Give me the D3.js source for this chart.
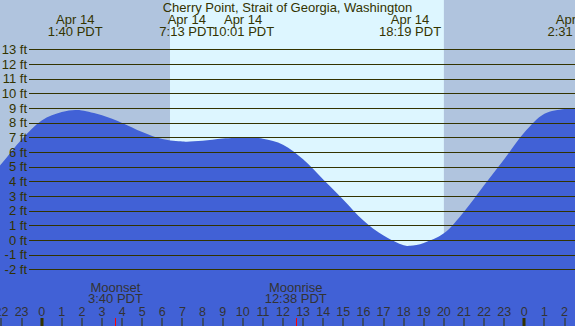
<!DOCTYPE html>
<html lang="en">
  <head>
    <meta charset="UTF-8" />
    <title>Cherry Point tide</title>
    <script src="https://cdnjs.cloudflare.com/ajax/libs/d3/7.8.5/d3.min.js"></script>
    <style>
      body,
      html {
        margin: 0;
        padding: 0;
        overflow: hidden;
      }
      svg {
        display: block;
      }
      text {
        font-family: "Liberation Sans", Arial, sans-serif;
        font-size: 13px;
        fill: #333300;
      }
      .hour {
        font-size: 12.5px;
      }
    </style>
  </head>
  <body>
    <svg width="575" height="326"></svg>
    <script type="text/javascript">
      // hours since midnight Apr 14 (PDT), heights in ft
      const hours = [-3, -2, -1, 0, 1, 1.667, 2, 3, 4, 5, 6, 7, 7.217, 8, 9, 10, 10.017, 11, 12, 13, 14, 15, 16, 17, 18, 18.317, 19, 20, 21, 22, 23, 24, 25, 26, 26.517, 27];
      const heights = [3.7, 5.2, 6.85, 8.15, 8.72, 8.86, 8.83, 8.5, 7.98, 7.36, 6.88, 6.71, 6.7, 6.76, 6.92, 6.99, 6.99, 6.9, 6.5, 5.5, 4.13, 2.75, 1.33, 0.3, -0.36, -0.4, -0.2, 0.45, 1.93, 3.73, 5.5, 7.32, 8.6, 8.93, 8.98, 8.95];

      const tideTimes = [1.667, 7.217, 10.017, 18.317, 26.517];
      const tideDates = ["Apr 14", "Apr 14", "Apr 14", "Apr 14", "Apr 15"];
      const tideLabels = ["1:40 PDT", "7:13 PDT", "10:01 PDT", "18:19 PDT", "2:31 PDT"];

      const moonTimes = [3.667, 12.633];
      const moonNames = ["Moonset", "Moonrise"];
      const moonLabels = ["3:40 PDT", "12:38 PDT"];

      const sunrise = 6.38;
      const sunset = 20.0;

      const feet = d3.range(-2, 14);
      const hourTicks = d3.range(-2, 27);

      const svg = d3.select("svg");
      const width = 575;
      const height = 326;

      const x = d3.scaleLinear().domain([0, 24]).range([41.7, 524.3]);
      const y = d3.scaleLinear().domain([-2, 13]).range([269.3, 49.3]);

      // night / day background
      svg.append("rect")
        .attr("width", width)
        .attr("height", height)
        .attr("fill", "#b0c4de");
      svg.append("rect")
        .attr("x", x(sunrise))
        .attr("width", x(sunset) - x(sunrise))
        .attr("height", height)
        .attr("fill", "#ddf6ff");

      // tide area
      const pts = hours.map((h, i) => [h, heights[i]]);
      const area = d3.area()
        .x((d) => x(d[0]))
        .y0(height)
        .y1((d) => y(d[1]))
        .curve(d3.curveCatmullRom.alpha(0.5));
      svg.append("path")
        .datum(pts)
        .attr("d", area)
        .attr("fill", "#4161d6");

      // grid lines + labels
      const grid = svg.append("g");
      grid.selectAll("line")
        .data(feet)
        .join("line")
        .attr("x1", 29)
        .attr("x2", width)
        .attr("y1", (d) => Math.round(y(d)) + 0.5)
        .attr("y2", (d) => Math.round(y(d)) + 0.5)
        .attr("stroke", "#333300")
        .attr("stroke-width", 1.2);
      grid.selectAll("text")
        .data(feet)
        .join("text")
        .attr("x", 27)
        .attr("y", (d) => y(d))
        .attr("dy", "0.36em")
        .attr("text-anchor", "end")
        .text((d) => d + " ft");

      // title
      svg.append("text")
        .attr("x", width / 2)
        .attr("y", 12)
        .attr("text-anchor", "middle")
        .text("Cherry Point, Strait of Georgia, Washington");

      // high / low labels
      const tl = svg.append("g")
        .selectAll("g")
        .data(tideTimes)
        .join("g")
        .attr("transform", (d) => `translate(${x(d)},0)`);
      tl.append("text")
        .attr("y", 24)
        .attr("text-anchor", "middle")
        .text((d, i) => tideDates[i]);
      tl.append("text")
        .attr("y", 35.5)
        .attr("text-anchor", "middle")
        .text((d, i) => tideLabels[i]);

      // moon labels
      const ml = svg.append("g")
        .selectAll("g")
        .data(moonTimes)
        .join("g")
        .attr("transform", (d) => `translate(${x(d)},0)`);
      ml.append("text")
        .attr("y", 291.5)
        .attr("text-anchor", "middle")
        .style("fill", "#333")
        .text((d, i) => moonNames[i]);
      ml.append("text")
        .attr("y", 303)
        .attr("text-anchor", "middle")
        .style("fill", "#333")
        .text((d, i) => moonLabels[i]);

      // hour axis
      const ax = svg.append("g");
      ax.selectAll("text")
        .data(hourTicks)
        .join("text")
        .attr("class", "hour")
        .attr("x", (d) => x(d))
        .attr("y", 316)
        .attr("text-anchor", "middle")
        .style("fill", "#333")
        .text((d) => ((d % 24) + 24) % 24);
      ax.selectAll("rect")
        .data(hourTicks)
        .join("rect")
        .attr("x", (d) => (d % 24 === 0 ? Math.round(x(d)) - 1.5 : Math.round(x(d)) - 0.5))
        .attr("y", 318)
        .attr("width", (d) => (d % 24 === 0 ? 3 : 1))
        .attr("height", 8)
        .attr("fill", "#333300");
      ax.selectAll("line.moon")
        .data(moonTimes)
        .join("line")
        .attr("class", "moon")
        .attr("x1", (d) => Math.round(x(d)) + 0.5)
        .attr("x2", (d) => Math.round(x(d)) + 0.5)
        .attr("y1", 318)
        .attr("y2", height)
        .attr("stroke", "red");
    </script>
  </body>
</html>
